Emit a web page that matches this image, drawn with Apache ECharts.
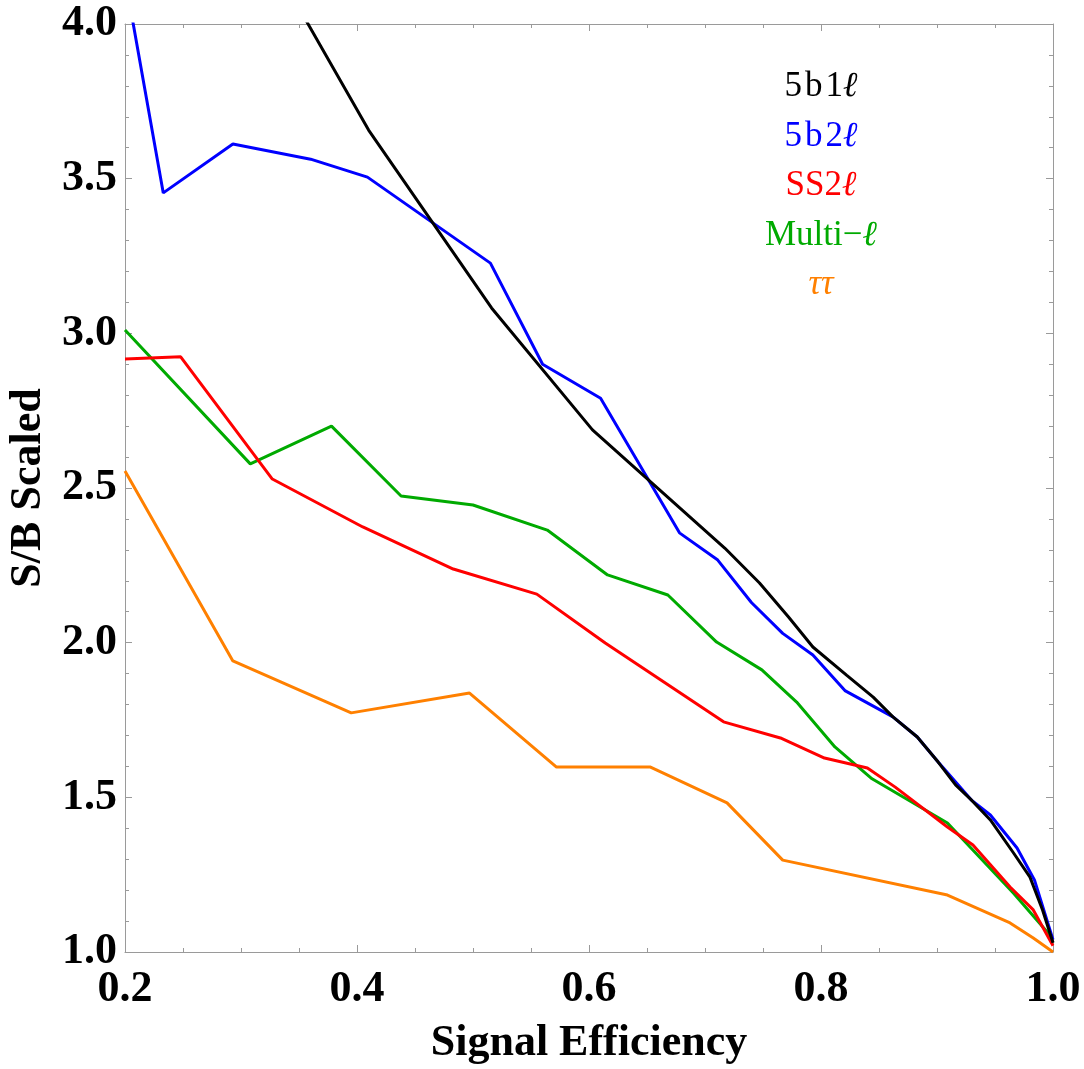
<!DOCTYPE html>
<html>
<head>
<meta charset="utf-8">
<script src="https://cdn.jsdelivr.net/npm/echarts@6/dist/echarts.min.js"></script>
<style>
html,body{margin:0;padding:0;background:#fff;}
#chart{width:1084px;height:1069px;}
</style>
</head>
<body>
<div id="chart"></div>
<script>
// ---- data ----
const x5b1l = [0.30, 0.410, 0.516, 0.603, 0.717, 0.747, 0.772, 0.793, 0.822, 0.845, 0.862, 0.883, 0.901, 0.916, 0.930, 0.946, 0.966, 0.980, 0.991, 1.0];
const y5b1l = [4.38, 3.657, 3.082, 2.688, 2.306, 2.193, 2.083, 1.986, 1.895, 1.824, 1.760, 1.695, 1.614, 1.540, 1.490, 1.427, 1.320, 1.243, 1.136, 1.03];

const x5b2l = [0.2, 0.233, 0.293, 0.360, 0.409, 0.515, 0.560, 0.610, 0.678, 0.711, 0.740, 0.767, 0.793, 0.821, 0.862, 0.883, 0.901, 0.930, 0.946, 0.969, 0.984, 1.0];
const y5b2l = [4.15, 3.454, 3.612, 3.563, 3.505, 3.227, 2.900, 2.790, 2.355, 2.267, 2.130, 2.030, 1.960, 1.844, 1.760, 1.695, 1.614, 1.490, 1.443, 1.336, 1.233, 1.04];

const xSS2l = [0.2, 0.248, 0.327, 0.405, 0.483, 0.555, 0.614, 0.716, 0.765, 0.803, 0.840, 0.864, 0.909, 0.931, 0.963, 0.983, 1.0];
const ySS2l = [2.917, 2.924, 2.529, 2.374, 2.238, 2.157, 1.999, 1.744, 1.692, 1.627, 1.595, 1.533, 1.404, 1.346, 1.210, 1.136, 1.02];

const xMulti = [0.2, 0.308, 0.378, 0.438, 0.500, 0.564, 0.616, 0.668, 0.710, 0.749, 0.779, 0.812, 0.844, 0.909, 0.966, 0.995, 1.0];
const yMulti = [3.011, 2.578, 2.700, 2.474, 2.445, 2.364, 2.219, 2.154, 2.002, 1.912, 1.808, 1.663, 1.560, 1.417, 1.190, 1.065, 1.03];

const xTauTau = [0.2, 0.293, 0.395, 0.497, 0.572, 0.653, 0.719, 0.767, 0.909, 0.963, 0.983, 1.0];
const yTauTau = [2.555, 1.941, 1.773, 1.837, 1.598, 1.598, 1.482, 1.297, 1.184, 1.094, 1.045, 1.0];

// legend labels: upright part + italic part
const seriesNames = ['5b1ℓ', '5b2ℓ', 'SS2ℓ', 'Multi−ℓ', 'ττ'];
const labelUpright = ['5\u200ab\u200a1', '5\u200ab\u200a2', 'SS2', 'Multi\u2212', ''];
const labelItalic = ['ℓ', 'ℓ', 'ℓ', 'ℓ', 'ττ'];
const seriesColors = ['#000000', '#0000ff', '#ff0000', '#00aa00', '#ff8000'];

// ---- build ----
function zip(xs, ys) { return xs.map((x, i) => [x, ys[i]]); }
const seriesData = [zip(x5b1l, y5b1l), zip(x5b2l, y5b2l), zip(xSS2l, ySS2l), zip(xMulti, yMulti), zip(xTauTau, yTauTau)];

const chart = echarts.init(document.getElementById('chart'), null, {renderer: 'canvas'});
const frame = '#9a9a9a';
const serif = '"Liberation Serif", "DejaVu Serif", serif';
const labelFont = {fontFamily: serif, fontWeight: 'bold', fontSize: 44, color: '#000'};

function baseAxis(extra) {
  return Object.assign({
    type: 'value',
    axisLine: {show: true, lineStyle: {color: frame, width: 1}},
    axisTick: {show: true, inside: true, length: 7, lineStyle: {color: frame}},
    splitLine: {show: false},
    minorSplitLine: {show: false}
  }, extra);
}

const option = {
  animation: false,
  backgroundColor: '#ffffff',
  grid: {left: 125, right: 31, top: 24, bottom: 117, containLabel: false, outerBoundsMode: 'none'},
  xAxis: [
    baseAxis({
      min: 0.2, max: 1.0, interval: 0.2, position: 'bottom',
      minorTick: {show: true, splitNumber: 4, length: 4, lineStyle: {color: frame}},
      axisLabel: Object.assign({margin: 16, formatter: v => v.toFixed(1)}, labelFont),
      name: 'Signal Efficiency', nameLocation: 'middle', nameGap: 70,
      nameTextStyle: labelFont
    }),
    baseAxis({
      min: 0.2, max: 1.0, interval: 0.2, position: 'top',
      minorTick: {show: true, splitNumber: 4, length: 4, lineStyle: {color: frame}},
      axisLabel: {show: false}
    })
  ],
  yAxis: [
    baseAxis({
      min: 1.0, max: 4.0, interval: 0.5, position: 'left',
      minorTick: {show: true, splitNumber: 5, length: 4, lineStyle: {color: frame}},
      axisLabel: Object.assign({margin: 8, formatter: v => v.toFixed(1)}, labelFont),
      name: 'S/B Scaled', nameLocation: 'middle', nameGap: 72, nameRotate: 90,
      nameTextStyle: labelFont
    }),
    baseAxis({
      min: 1.0, max: 4.0, interval: 0.5, position: 'right',
      minorTick: {show: true, splitNumber: 5, length: 4, lineStyle: {color: frame}},
      axisLabel: {show: false}
    })
  ],
  series: seriesData.map((d, i) => ({
    name: seriesNames[i],
    type: 'line',
    xAxisIndex: 0, yAxisIndex: 0,
    data: d,
    showSymbol: false,
    symbol: 'none',
    clip: true,
    lineStyle: {color: seriesColors[i], width: 3},
    z: 10 - i
  })),
  graphic: seriesNames.map((n, i) => ({
    type: 'text',
    x: 821,
    y: 87 + i * 49.5,
    style: {
      text: (labelUpright[i] ? '{n|' + labelUpright[i] + '}' : '') + '{i|' + labelItalic[i] + '}',
      align: 'center',
      verticalAlign: 'middle',
      rich: {
        n: {fontFamily: serif, fontSize: 35, fill: seriesColors[i], color: seriesColors[i]},
        i: {fontFamily: serif, fontSize: 35, fontStyle: 'italic', fill: seriesColors[i], color: seriesColors[i]}
      }
    }
  }))
};
chart.setOption(option);
</script>
</body>
</html>
